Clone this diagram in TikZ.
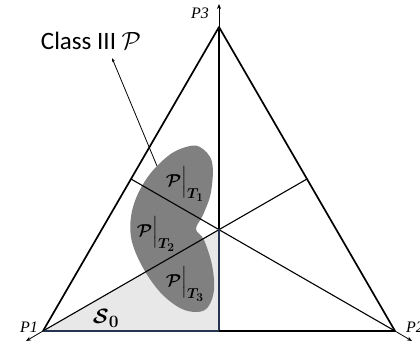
\documentclass[tikz,border=0pt]{standalone}
\usepackage{amsmath,bm}
\usepackage{fontspec}
\newfontfamily\classfont{Carlito}
\newfontfamily\vertfont{Liberation Serif}
\usetikzlibrary{arrows.meta}
\DeclareMathSizes{19}{19}{15}{12}
\DeclareMathSizes{22}{22}{17}{13}
\definecolor{mblob}{HTML}{808080}
\definecolor{mshade}{HTML}{E8E8E8}
\definecolor{medge}{HTML}{24364F}
\tikzset{
  tedge/.style={line width=1.7pt, black, line join=round},
  median/.style={line width=1.1pt, black},
  axis/.style={-{Stealth[length=5pt,width=4pt]}, line width=0.8pt},
  vlabel/.style={font=\fontsize{16}{16}\selectfont\vertfont\itshape, inner sep=0pt},
  plabel/.style={font=\fontsize{19}{19}\selectfont, inner sep=0pt},
}

\begin{document}
\begin{tikzpicture}[x=1pt, y=-1pt]
  \useasboundingbox (0,0) rectangle (420,345);

  %% vertices, centroid and edge midpoints
  \coordinate (v1) at (43,331);
  \coordinate (v2) at (395,331);
  \coordinate (v3) at (219,27);
  \coordinate (o) at (219,229);
  \coordinate (m12) at (219,331);
  \coordinate (m13) at (131,179);
  \coordinate (m23) at (307,179);
  \coordinate (a1) at (26,341);
  \coordinate (a2) at (412,341);
  \coordinate (a3) at (219,4);

  %% S0 region
  \fill[mshade] (v1) -- (m12) -- (o) -- cycle;

  %% class III blob
  \fill[mblob] plot[smooth cycle, tension=0.6] coordinates {
    (200,147) (212,162) (211,192) (203,215) (196,229) (204,240) (212,265)
    (214,290) (208,307) (197,312) (180,308) (160,292) (142,266) (131,237)
    (133,207) (147,178) (168,156) (186,147)};

  %% triangle, medians and axes
  \draw[median] (v3) -- (m12);
  \draw[median] (v1) -- (m23);
  \draw[median] (m13) -- (v2);
  \draw[line width=1.3pt, medge] (v1) -- (m12) -- (o);
  \draw[tedge] (v1) -- (v3) -- (v2) -- (m12);
  \draw[axis] (v1) -- (a1);
  \draw[axis] (v2) -- (a2);
  \draw[axis] (v3) -- (a3);

  %% labels
  \node[vlabel] (p1) at (29,327) {P1};
  \node[vlabel] (p2) at (415,327) {P2};
  \node[vlabel] (p3) at (200,13) {P3};
  \node[font=\fontsize{25}{25}\selectfont\classfont, inner sep=0pt] (cls) at (91,41) {Class III $\mathcal{P}$};
  \coordinate (ctip) at (112,58);
  \coordinate (cfoot) at (157,166);
  \draw[-{Stealth[length=4pt,width=3pt]}, line width=0.8pt] (cfoot) -- (ctip);

  \node[plabel] (t1) at (185,184) {$\boldsymbol{\mathcal{P}\Big|_{T_1}}$};
  \node[plabel] (t2) at (156,234) {$\boldsymbol{\mathcal{P}\Big|_{T_2}}$};
  \node[plabel] (t3) at (185,284) {$\boldsymbol{\mathcal{P}\Big|_{T_3}}$};
  \node[font=\fontsize{22}{22}\selectfont, inner sep=0pt] (s0) at (106,318) {$\boldsymbol{\mathcal{S}_0}$};

\end{tikzpicture}
\end{document}
